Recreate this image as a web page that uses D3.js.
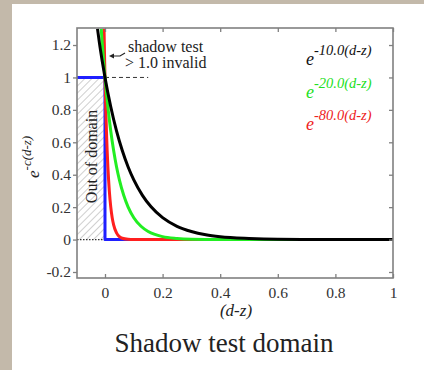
<!DOCTYPE html>
<html><head><meta charset="utf-8">
<script src="https://cdn.jsdelivr.net/npm/d3@7"></script>
<style>
html,body{margin:0;padding:0;background:#c3b9aa;}
svg{display:block;}
</style></head>
<body>
<svg id="chart" width="424" height="370"></svg>
<script>
// ---- data ----
const xTicks = [0, 0.2, 0.4, 0.6, 0.8, 1];
const xTickLabels = ["0", "0.2", "0.4", "0.6", "0.8", "1"];
const yTicks = [-0.2, 0, 0.2, 0.4, 0.6, 0.8, 1, 1.2];
const yTickLabels = ["-0.2", "0", "0.2", "0.4", "0.6", "0.8", "1", "1.2"];

const blackX = [-0.026,-0.02,-0.01,0,0.02,0.04,0.06,0.08,0.1,0.13,0.16,0.2,0.25,0.3,0.35,0.4,0.5,0.6,0.8,1.0];
const blackY = [1.30,1.221,1.105,1,0.819,0.670,0.549,0.449,0.368,0.273,0.202,0.135,0.082,0.050,0.030,0.018,0.007,0.002,0.0003,0];
const greenX = [-0.013,-0.01,-0.005,0,0.01,0.02,0.03,0.04,0.05,0.065,0.08,0.1,0.125,0.15,0.2,0.25,0.3,0.4,1.0];
const greenY = [1.30,1.221,1.105,1,0.819,0.670,0.549,0.449,0.368,0.273,0.202,0.135,0.082,0.050,0.018,0.007,0.0025,0.0003,0];
const redX = [-0.0033,-0.0025,-0.00125,0,0.0025,0.005,0.0075,0.01,0.0125,0.015,0.02,0.025,0.03,0.04,0.05,0.06,0.08,0.1,1.0];
const redY = [1.30,1.221,1.105,1,0.819,0.670,0.549,0.449,0.368,0.301,0.202,0.135,0.091,0.041,0.018,0.008,0.0017,0.0003,0];
const blueX = [-0.1, 0, 0, 1];
const blueY = [1, 1, 0, 0];

const legendBase = ["e", "e", "e"];
const legendSup = ["-10.0(d-z)", "-20.0(d-z)", "-80.0(d-z)"];
const legendColors = ["#111111", "#22e022", "#ee2222"];

// ---- layout ----
const svg = d3.select("#chart");
const L = 77, R = 393, T = 28, B = 278;
const x = d3.scaleLinear().domain([-0.0972, 1]).range([L, R]);
const y = d3.scaleLinear().domain([-0.237, 1.305]).range([B, T]);
const serif = "'Liberation Serif','Times New Roman',serif";

svg.append("rect").attr("x", 12).attr("y", 4).attr("width", 412).attr("height", 366).attr("fill", "#ffffff");

const defs = svg.append("defs");
const pat = defs.append("pattern").attr("id", "hatch").attr("patternUnits", "userSpaceOnUse")
  .attr("width", 5).attr("height", 5).attr("patternTransform", "rotate(45)");
pat.append("line").attr("x1", 0).attr("y1", 0).attr("x2", 0).attr("y2", 5)
  .attr("stroke", "#a0a0a0").attr("stroke-width", 1);
defs.append("clipPath").attr("id", "clip").append("rect")
  .attr("x", L).attr("y", T).attr("width", R - L).attr("height", B - T);

// hatched out-of-domain area
svg.append("rect").attr("x", x(-0.0972)).attr("y", y(1))
  .attr("width", x(0) - x(-0.0972)).attr("height", y(0) - y(1)).attr("fill", "url(#hatch)");

svg.append("text").attr("transform", `translate(${x(-0.048)+5.5},${(y(0)+y(1))/2 - 2}) rotate(-90)`)
  .attr("text-anchor", "middle").attr("font-family", serif).attr("font-size", 16).attr("fill", "#222")
  .text("Out of domain");

// reference lines
svg.append("line").attr("x1", x(-0.0972)).attr("x2", x(0)).attr("y1", y(0)).attr("y2", y(0))
  .attr("stroke", "#333").attr("stroke-width", 1.2).attr("stroke-dasharray", "1.5,1.5");
svg.append("line").attr("x1", x(0)).attr("x2", x(0.15)).attr("y1", y(1)).attr("y2", y(1))
  .attr("stroke", "#333").attr("stroke-width", 1).attr("stroke-dasharray", "4,3");

// curves
const line = d3.line().x(d => x(d[0])).y(d => y(d[1]));
const smooth = d3.line().x(d => x(d[0])).y(d => y(d[1])).curve(d3.curveMonotoneX);
const curves = svg.append("g").attr("clip-path", "url(#clip)").attr("fill", "none")
  .attr("stroke-width", 3).attr("stroke-linejoin", "round");
curves.append("path").attr("d", line(d3.zip(blueX, blueY))).attr("stroke", "#1f1fff");
curves.append("path").attr("d", smooth(d3.zip(redX, redY))).attr("stroke", "#ff1f1f");
curves.append("path").attr("d", smooth(d3.zip(greenX, greenY))).attr("stroke", "#22ee22");
curves.append("path").attr("d", smooth(d3.zip(blackX, blackY))).attr("stroke", "#000000");

// frame + axes
const axColor = "#808080";
svg.append("rect").attr("x", L).attr("y", T).attr("width", R - L).attr("height", B - T)
  .attr("fill", "none").attr("stroke", axColor).attr("stroke-width", 1.6);

function styleAxis(g) {
  g.attr("font-family", serif).attr("font-size", 15.5);
  g.select(".domain").remove();
  g.selectAll(".tick line").attr("stroke", axColor).attr("stroke-width", 1.3);
  g.selectAll(".tick text").attr("font-family", serif).attr("font-size", 15.5).attr("fill", "#333");
}
svg.append("g").attr("transform", `translate(0,${B})`)
  .call(d3.axisBottom(x).tickValues(xTicks).tickFormat((d, i) => xTickLabels[i]).tickSizeInner(-4).tickPadding(9))
  .call(styleAxis);
svg.append("g").attr("transform", `translate(0,${T})`)
  .call(d3.axisTop(x).tickValues(xTicks).tickFormat("").tickSizeInner(-4))
  .call(styleAxis);
svg.append("g").attr("transform", `translate(${L},0)`)
  .call(d3.axisLeft(y).tickValues(yTicks).tickFormat((d, i) => yTickLabels[i]).tickSizeInner(4).tickPadding(2))
  .call(styleAxis);
svg.append("g").attr("transform", `translate(${R},0)`)
  .call(d3.axisRight(y).tickValues(yTicks).tickFormat("").tickSizeInner(-4))
  .call(styleAxis);

// y-axis label
const yl = svg.append("text").attr("transform", "translate(39,178) rotate(-90)")
  .attr("font-family", serif).attr("font-style", "italic").attr("fill", "#222");
yl.append("tspan").attr("font-size", 17).text("e");
yl.append("tspan").attr("font-size", 13).attr("dy", -8).text("-c(d-z)");

// x-axis label
svg.append("text").attr("x", 236).attr("y", 316).attr("text-anchor", "middle")
  .attr("font-family", serif).attr("font-style", "italic").attr("font-size", 17).attr("fill", "#222")
  .text("(d-z)");

// legend
legendBase.forEach((b, i) => {
  const t = svg.append("text").attr("x", 306).attr("y", 65 + i * 32.5)
    .attr("font-family", serif).attr("font-style", "italic").attr("fill", legendColors[i]);
  t.append("tspan").attr("font-size", 18).text(b);
  t.append("tspan").attr("font-size", 14.5).attr("dy", -10).text(legendSup[i]);
});

// annotation
svg.append("text").attr("x", 128).attr("y", 52).attr("font-family", serif).attr("font-size", 16)
  .attr("fill", "#222").text("shadow test");
svg.append("text").attr("x", 125).attr("y", 68).attr("font-family", serif).attr("font-size", 16)
  .attr("fill", "#222").text("> 1.0 invalid");
svg.append("path").attr("d", "M112,56 L120,56 L125,53").attr("fill", "none").attr("stroke", "#222").attr("stroke-width", 1.2);
svg.append("path").attr("d", "M109,56 L114,53.5 L114,58.5 Z").attr("fill", "#222");

// title
svg.append("text").attr("x", 224).attr("y", 352).attr("text-anchor", "middle")
  .attr("font-family", serif).attr("font-size", 27).attr("fill", "#222").text("Shadow test domain");
</script>
</body></html>
